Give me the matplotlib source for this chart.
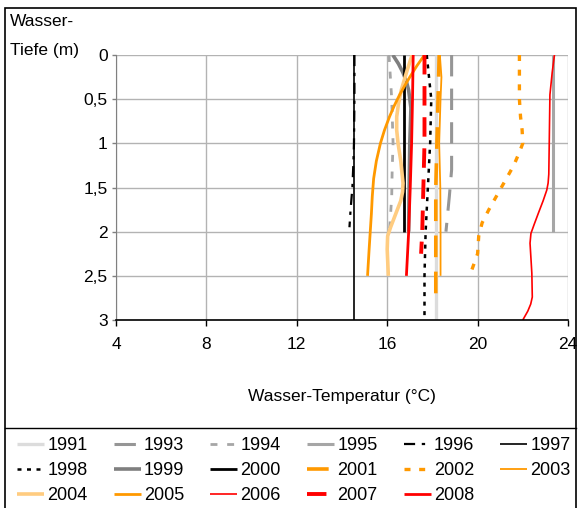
import matplotlib
matplotlib.use("Agg")
import matplotlib.pyplot as plt
from matplotlib.lines import Line2D
from matplotlib.patches import Rectangle

plt.rcParams['font.family'] = ['Liberation Sans', 'DejaVu Sans']
plt.rcParams['font.size'] = 12

# ---- data: depth (m) and temperature (°C) per year ----
years = ['1991', '1993', '1994', '1995', '1996', '1997', '1998', '1999', '2000',
         '2001', '2002', '2003', '2004', '2005', '2006', '2007', '2008']

d_1991 = [0, 0.5, 1, 1.5, 2, 2.5, 3]
t_1991 = [18.15, 18.15, 18.15, 18.15, 18.15, 18.15, 18.15]

d_1993 = [0, 0.5, 1, 1.3, 1.6, 2]
t_1993 = [18.85, 18.85, 18.85, 18.85, 18.75, 18.6]

d_1994 = [0, 0.5, 1, 1.3, 1.6, 2]
t_1994 = [16.08, 16.2, 16.26, 16.22, 16.2, 16.1]

d_1995 = [0, 0.5, 1, 1.5, 2]
t_1995 = [23.35, 23.35, 23.35, 23.35, 23.35]

d_1996 = [0, 0.5, 1, 1.25, 1.5, 1.75, 1.95]
t_1996 = [14.55, 14.55, 14.53, 14.5, 14.46, 14.38, 14.33]

d_1997 = [0, 0.5, 1, 1.5, 2, 2.5, 3]
t_1997 = [14.55, 14.55, 14.55, 14.55, 14.55, 14.55, 14.55]

d_1998 = [0, 0.5, 1, 1.5, 2, 2.5, 3]
t_1998 = [17.75, 17.95, 17.9, 17.8, 17.7, 17.65, 17.65]

d_1999 = [0, 0.1, 0.2, 0.3, 0.4, 0.6, 1, 1.5, 2]
t_1999 = [16.25, 16.5, 16.7, 16.85, 16.95, 17.05, 17.0, 16.97, 16.95]

d_2000 = [0, 0.5, 1, 1.5, 2]
t_2000 = [16.75, 16.75, 16.75, 16.75, 16.75]

d_2001 = [0, 0.5, 1, 1.5, 2, 2.5, 2.75]
t_2001 = [18.3, 18.25, 18.2, 18.15, 18.15, 18.15, 18.15]

d_2002 = [0, 0.5, 0.7, 0.85, 1.0, 1.1, 1.25, 1.5, 1.75, 1.9, 2.05, 2.25, 2.5]
t_2002 = [21.85, 21.85, 21.9, 21.97, 22.0, 21.85, 21.6, 21.05, 20.5, 20.2, 20.05, 20.0, 19.65]

d_2003 = [0, 0.25, 0.5, 1, 1.5, 2, 2.5]
t_2003 = [18.33, 18.4, 18.36, 18.3, 18.35, 18.36, 18.36]

d_2004 = [0, 0.2, 0.4, 0.55, 0.7, 0.85, 1.0, 1.2, 1.45, 1.55, 1.65, 1.75, 1.85, 1.95, 2.05, 2.2, 2.5]
t_2004 = [17.1, 16.85, 16.62, 16.5, 16.42, 16.42, 16.48, 16.6, 16.7, 16.68, 16.6, 16.45, 16.3, 16.15, 16.02, 16.0, 16.05]

d_2005 = [0, 0.12, 0.25, 0.35, 0.45, 0.57, 0.7, 0.85, 1.0, 1.2, 1.4, 1.6, 1.8, 2.2, 2.5]
t_2005 = [17.65, 17.32, 17.0, 16.77, 16.55, 16.32, 16.1, 15.88, 15.7, 15.52, 15.4, 15.34, 15.3, 15.2, 15.13]

d_2006 = [0, 0.2, 0.45, 1.0, 1.35, 1.45, 1.53, 1.65, 1.79, 1.92, 2.02, 2.13, 2.3, 2.47, 2.74, 2.82, 2.9, 3.0]
t_2006 = [23.4, 23.3, 23.2, 23.17, 23.15, 23.12, 23.06, 22.9, 22.69, 22.5, 22.36, 22.32, 22.36, 22.4, 22.42, 22.35, 22.22, 22.0]

d_2007 = [0, 0.5, 1, 1.5, 2, 2.25]
t_2007 = [17.65, 17.65, 17.65, 17.6, 17.55, 17.5]

d_2008 = [0, 0.5, 1, 1.5, 2, 2.5]
t_2008 = [17.15, 17.12, 17.08, 17.02, 16.95, 16.85]

x_ticks = [4, 8, 12, 16, 20, 24]
y_ticks = [0, 0.5, 1, 1.5, 2, 2.5, 3]
y_tick_labels = ['0', '0,5', '1', '1,5', '2', '2,5', '3']

series = {
    '1991': (d_1991, t_1991), '1993': (d_1993, t_1993), '1994': (d_1994, t_1994),
    '1995': (d_1995, t_1995), '1996': (d_1996, t_1996), '1997': (d_1997, t_1997),
    '1998': (d_1998, t_1998), '1999': (d_1999, t_1999), '2000': (d_2000, t_2000),
    '2001': (d_2001, t_2001), '2002': (d_2002, t_2002), '2003': (d_2003, t_2003),
    '2004': (d_2004, t_2004), '2005': (d_2005, t_2005), '2006': (d_2006, t_2006),
    '2007': (d_2007, t_2007), '2008': (d_2008, t_2008),
}

styles = {
    '1991': dict(color='#dcdcdc', lw=2.4),
    '1993': dict(color='#969696', lw=2.2, dashes=(7, 4)),
    '1994': dict(color='#a6a6a6', lw=2.0, dashes=(2.5, 3.5)),
    '1995': dict(color='#a6a6a6', lw=2.2),
    '1996': dict(color='black', lw=1.6, dashes=(5, 3, 1.5, 3)),
    '1997': dict(color='black', lw=1.2),
    '1998': dict(color='black', lw=1.8, dashes=(1.6, 2.2)),
    '1999': dict(color='#7f7f7f', lw=2.6),
    '2000': dict(color='black', lw=2.0),
    '2001': dict(color='#ff9900', lw=2.6, dashes=(6, 4)),
    '2002': dict(color='#ff9900', lw=2.4, dashes=(1.8, 2.6)),
    '2003': dict(color='#ff9900', lw=1.3),
    '2004': dict(color='#ffcc80', lw=2.6),
    '2005': dict(color='#ff9900', lw=2.0),
    '2006': dict(color='#ff0000', lw=1.2),
    '2007': dict(color='#ff0000', lw=2.8, dashes=(5, 3)),
    '2008': dict(color='#ff0000', lw=2.0),
}

W, H = 580, 508
fig = plt.figure(figsize=(W / 100, H / 100), dpi=100)
ax = fig.add_axes([116 / W, 1 - 320 / H, (568 - 116) / W, (320 - 55) / H])

handles = {}
for y in years:
    d, t = series[y]
    st = dict(styles[y])
    dashes = st.pop('dashes', None)
    kw = dict(solid_capstyle='butt', dash_capstyle='butt', solid_joinstyle='round')
    if dashes is not None:
        kw['dashes'] = dashes
    ln, = ax.plot(t, d, label=y, **st, **kw)
    handles[y] = ln

ax.set_xlim(4, 24)
ax.set_ylim(3, 0)
ax.set_xticks(x_ticks)
ax.set_yticks(y_ticks)
ax.set_yticklabels(y_tick_labels)
ax.grid(True, color='#b3b3b3', lw=1.0)
ax.set_axisbelow(True)
for s in ['top', 'right']:
    ax.spines[s].set_visible(False)
ax.spines['left'].set_color('#808080')
ax.spines['bottom'].set_color('black')
ax.spines['bottom'].set_linewidth(1.2)
ax.tick_params(axis='x', direction='out', length=4, width=1, pad=8, labelsize=12.5)
ax.tick_params(axis='y', direction='out', length=3, width=1, color='#808080', pad=3, labelsize=12.5)
ax.set_xlabel('Wasser-Temperatur (°C)', fontsize=12.5, labelpad=27)

fig.text(10 / W, 1 - 21 / H, 'Wasser-', fontsize=12.5, ha='left', va='center')
fig.text(10 / W, 1 - 50 / H, 'Tiefe (m)', fontsize=12.5, ha='left', va='center')

# outer frame and legend separator
fig.add_artist(Rectangle((5 / W, -0.01), (576 - 5) / W, (1 - 8 / H) + 0.01,
                         transform=fig.transFigure, fill=False, ec='black', lw=1.2))
fig.add_artist(Line2D([5 / W, 576 / W], [1 - 428 / H, 1 - 428 / H],
                      transform=fig.transFigure, color='black', lw=1.0))

# legend, row-major like the reference
ncol = 6
order = []
for j in range(ncol):
    for i in range(3):
        k = i * ncol + j
        if k < len(years):
            order.append(years[k])
fig.legend([handles[y] for y in order], order, ncol=ncol, loc='upper left',
           bbox_to_anchor=(17 / W, 1 - 437 / H), frameon=False, fontsize=13,
           handlelength=1.5, handletextpad=0.17, columnspacing=1.45,
           labelspacing=0.45, borderpad=0, borderaxespad=0)

fig.savefig('out.png', dpi=100)
